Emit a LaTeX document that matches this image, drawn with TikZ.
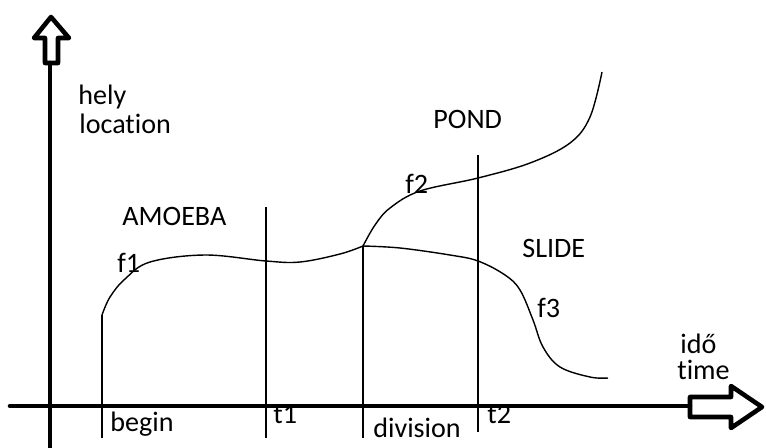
\documentclass[tikz,border=0pt]{standalone}
\usepackage{fontspec}
\setmainfont{Carlito}[Ligatures=NoCommon]

\begin{document}
\begin{tikzpicture}[x=0.02cm,y=-0.02cm,font=\fontsize{16}{19}\selectfont,axis/.style={line width=2.6pt,line join=round,line cap=round},tline/.style={line width=0.8pt},curve/.style={line width=0.8pt},lbl/.style={anchor=base west,inner sep=0pt}]
\useasboundingbox (0,0) rectangle (766,447);
\coordinate (ybot) at (50,447);
\coordinate (ytop) at (50,63);
\coordinate (xleft) at (10,406);
\coordinate (xright) at (690,406);
\draw[axis] (ybot)--(ytop);
\draw[axis] (xleft)--(xright);
\draw[axis] (51,17)--(69,38)--(58,38)--(58,63)--(45,63)--(45,38)--(34,38)--cycle;
\draw[axis] (690,397)--(731,397)--(731,386)--(762,407)--(731,428)--(731,417)--(690,417)--cycle;
\coordinate (b0) at (102,315);
\coordinate (t1top) at (266,207);
\coordinate (split) at (363,246);
\coordinate (t2top) at (478,155);
\coordinate (b1) at (102,438);
\coordinate (t1bot) at (266,438);
\coordinate (divbot) at (363,438);
\coordinate (t2bot) at (478,432);
\draw[tline] (b0)--(b1);
\draw[tline] (t1top)--(t1bot);
\draw[tline] (split)--(divbot);
\draw[tline] (t2top)--(t2bot);
\draw[curve] plot[smooth,tension=0.6] coordinates {(102,315) (110,297) (125,279) (150,262) (205,255) (266,261) (300,262) (340,254) (363,246)};
\draw[curve] plot[smooth,tension=0.6] coordinates {(363,246) (375,225) (390,208) (420,191) (478,178) (530,163) (570,143) (590,117) (602,72)};
\draw[curve] plot[smooth,tension=0.6] coordinates {(363,246) (400,248) (450,255) (478,261) (505,275) (520,290) (533,320) (543,347) (560,367) (590,377) (608,378)};
\node[lbl] (hely) at (78,104) {hely};
\node[lbl] (loc) at (79,133) {location};
\node[lbl] (amoeba) at (122,225) {AMOEBA};
\node[lbl] (f1) at (117,272) {f1};
\node[lbl] (f2) at (405,193) {f2};
\node[lbl] (pond) at (433,128) {POND};
\node[lbl] (slide) at (522,257) {SLIDE};
\node[lbl] (f3) at (537,317) {f3};
\node[lbl] (ido) at (680,353) {idő};
\node[lbl] (time) at (677,379) {time};
\node[lbl] (begin) at (110,431) {begin};
\node[lbl] (t1) at (273,423) {t1};
\node[lbl] (division) at (373,437) {division};
\node[lbl] (t2) at (487,423) {t2};
\end{tikzpicture}
\end{document}
